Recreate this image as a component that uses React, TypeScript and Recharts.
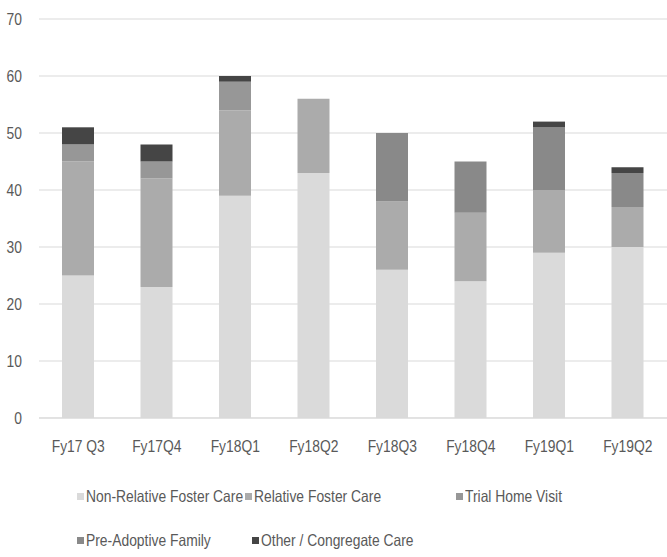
import React from "react";
import { BarChart, Bar, XAxis, YAxis, CartesianGrid, Legend } from "recharts";

const categories = ["Fy17 Q3", "Fy17Q4", "Fy18Q1", "Fy18Q2", "Fy18Q3", "Fy18Q4", "Fy19Q1", "Fy19Q2"];
const nonRelative = [25, 23, 39, 43, 26, 24, 29, 30];
const relative = [20, 19, 15, 13, 12, 12, 11, 7];
const trialHome = [3, 3, 5, 0, 0, 0, 0, 0];
const preAdoptive = [0, 0, 0, 0, 12, 9, 11, 6];
const other = [3, 3, 1, 0, 0, 0, 1, 1];
const yTicks = [0, 10, 20, 30, 40, 50, 60, 70];

const seriesNames = [
  "Non-Relative Foster Care",
  "Relative Foster Care",
  "Trial Home Visit",
  "Pre-Adoptive Family",
  "Other / Congregate Care",
];
const seriesKeys = ["nonRelative", "relative", "trialHome", "preAdoptive", "other"];
const seriesColors = ["#dadada", "#ababab", "#979797", "#898989", "#454545"];

const data = categories.map((c, i) => ({
  name: c,
  nonRelative: nonRelative[i],
  relative: relative[i],
  trialHome: trialHome[i],
  preAdoptive: preAdoptive[i],
  other: other[i],
}));

const FONT = "'Liberation Sans', Arial, sans-serif";
const TEXT = "#595959";

const XTick = (props: any) => {
  const { x, y, payload } = props;
  return (
    <text
      transform={`translate(${x},${y}) scale(0.84,1)`}
      textAnchor="middle"
      dy="0.71em"
      fill={TEXT}
      fontSize={16.5}
      fontFamily={FONT}
    >
      {payload.value}
    </text>
  );
};

const YTick = (props: any) => {
  const { x, y, payload } = props;
  return (
    <text
      transform={`translate(${x},${y}) scale(0.84,1)`}
      textAnchor="end"
      dy="0.355em"
      fill={TEXT}
      fontSize={16.5}
      fontFamily={FONT}
    >
      {payload.value}
    </text>
  );
};

const legendItems = [
  { idx: 0, left: 77, top: 0 },
  { idx: 1, left: 245, top: 0 },
  { idx: 2, left: 456, top: 0 },
  { idx: 3, left: 77, top: 44 },
  { idx: 4, left: 252, top: 44 },
];

const CustomLegend = () => (
  <div style={{ position: "relative", width: 667, height: 90, fontFamily: FONT, fontSize: 16.5, color: TEXT }}>
    {legendItems.map(({ idx, left, top }) => (
      <div
        key={idx}
        style={{
          position: "absolute",
          left,
          top,
          height: 20,
          display: "flex",
          alignItems: "center",
          whiteSpace: "nowrap",
        }}
      >
        <span style={{ display: "inline-block", width: 7, height: 7, background: seriesColors[idx], marginRight: 2 }} />
        <span style={{ display: "inline-block", transform: "scaleX(0.84)", transformOrigin: "left center" }}>
          {seriesNames[idx]}
        </span>
      </div>
    ))}
  </div>
);

export default function App() {
  return (
    <div style={{ position: "absolute", left: 0, top: 0, background: "#fff" }}>
      <BarChart width={667} height={557} data={data} margin={{ top: 19, right: 0, left: 0, bottom: 19 }} barSize={32}>
        <CartesianGrid vertical={false} stroke="#d9d9d9" />
        <XAxis
          dataKey="name"
          axisLine={{ stroke: "#d9d9d9" }}
          tickLine={false}
          tickMargin={16}
          height={30}
          tick={<XTick />}
        />
        <YAxis
          width={39}
          domain={[0, 70]}
          ticks={yTicks}
          axisLine={false}
          tickLine={false}
          tickMargin={11}
          tick={<YTick />}
        />
        <Legend content={<CustomLegend />} wrapperStyle={{ top: 486, left: 0, width: 667, height: 90 }} />
        {seriesKeys.map((k, i) => (
          <Bar key={k} dataKey={k} name={seriesNames[i]} stackId="a" fill={seriesColors[i]} isAnimationActive={false} />
        ))}
      </BarChart>
    </div>
  );
}
